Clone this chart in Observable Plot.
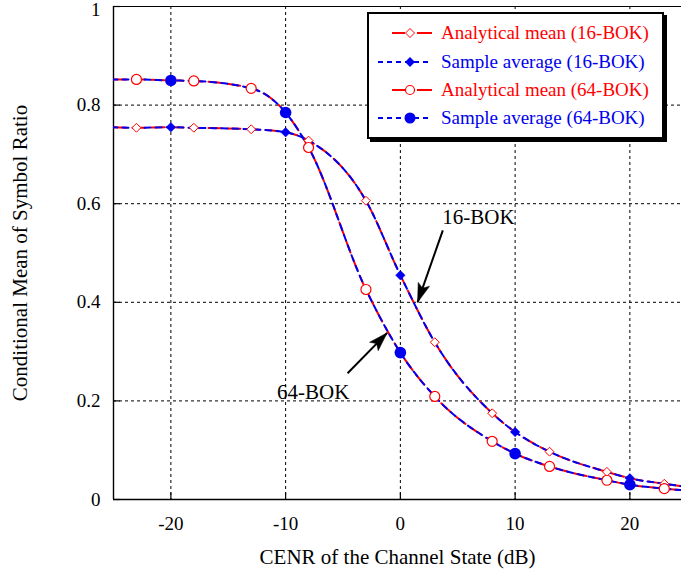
<!DOCTYPE html>
<html>
<head>
<meta charset="utf-8">
<script src="https://cdn.jsdelivr.net/npm/d3@7"></script>
<script src="https://cdn.jsdelivr.net/npm/@observablehq/plot@0.6"></script>
<style>
  html, body { margin: 0; padding: 0; background: #fff; }
  #wrap { position: relative; width: 681px; height: 581px; font-family: "Liberation Serif", "Times New Roman", Times, "DejaVu Serif", serif; }
  #legend { position: absolute; left: 367px; top: 12px; width: 293px; height: 123px; border: 2px solid #000; box-shadow: 3px 3px 0 #000; background: #fff; }
  .row { position: absolute; left: 0; height: 28px; display: flex; align-items: center; font-size: 19px; white-space: nowrap; }
  .row svg { width: 72px; height: 28px; flex: none; }
  #chart svg text { font-family: "Liberation Serif", "Times New Roman", Times, "DejaVu Serif", serif; }
</style>
</head>
<body>
<div id="wrap"><div id="chart"></div><div id="legend"></div></div>
<script>
// ---- data ----
const analyticX = [-23, -18, -13, -8, -3, 3, 8, 13, 18, 23];
const analytic16 = [0.754, 0.754, 0.751, 0.728, 0.606, 0.319, 0.175, 0.097, 0.056, 0.032];
const analytic64 = [0.852, 0.849, 0.834, 0.714, 0.426, 0.209, 0.118, 0.067, 0.039, 0.022];
const sampleX = [-20, -10, 0, 10, 20];
const sample16 = [0.755, 0.745, 0.455, 0.137, 0.043];
const sample64 = [0.850, 0.785, 0.298, 0.093, 0.030];
// curve ends at the frame edges
const edgeX = [-25, 24.5];
const edge16 = [0.755, 0.027];
const edge64 = [0.852, 0.019];

const xTicks = [-20, -10, 0, 10, 20];
const yTicks = [0, 0.2, 0.4, 0.6, 0.8, 1];
const xGrid = [-20, -10, 0, 10, 20];
const yGrid = [0.2, 0.4, 0.6, 0.8];

const labels = ["16-BOK", "64-BOK"];
const labelX = [6.8, -7.6];
const labelY = [0.572, 0.217];
const arrowX1 = [3.7, -4.6];
const arrowY1 = [0.546, 0.256];
const arrowX2 = [1.5, -1.15];
const arrowY2 = [0.4, 0.338];

const legendNames = ["Analytical mean (16-BOK)", "Sample average (16-BOK)", "Analytical mean (64-BOK)", "Sample average (64-BOK)"];

// ---- build tables ----
const pts = (xs, ys) => xs.map((x, i) => ({x, y: ys[i]}));
const curve = (a, s, e) => [...pts(analyticX, a), ...pts(sampleX, s), ...pts(edgeX, e)].sort((p, q) => p.x - q.x);
const c16 = curve(analytic16, sample16, edge16);
const c64 = curve(analytic64, sample64, edge64);
const a16 = pts(analyticX, analytic16), a64 = pts(analyticX, analytic64);
const s16 = pts(sampleX, sample16), s64 = pts(sampleX, sample64);
const ann = labels.map((t, i) => ({t, x: labelX[i], y: labelY[i], x1: arrowX1[i], y1: arrowY1[i], x2: arrowX2[i], y2: arrowY2[i]}));

const RED = "#ff0000", BLUE = "#0000ee";
const serif = "'Liberation Serif', 'Times New Roman', Times, 'DejaVu Serif', serif";

// filled arrowhead symbol: tip at the origin, pointing up
const arrowHead = {
  draw(context) {
    context.moveTo(0, 0);
    context.lineTo(-6, 19);
    context.lineTo(0, 15);
    context.lineTo(6, 19);
    context.closePath();
  }
};

const base = {
  width: 681,
  height: 581,
  marginLeft: 113,
  marginRight: 0,
  marginTop: 6,
  marginBottom: 82,
  style: {fontFamily: serif, background: "#fff", color: "#000"},
  x: {domain: [-25, 24.5]},
  y: {domain: [0, 1]}
};

// first pass: get the scales to orient the arrowheads in screen space
const probe = Plot.plot({...base, marks: [Plot.dot(ann, {x: "x", y: "y"})]});
const sx = probe.scale("x"), sy = probe.scale("y");
ann.forEach(d => {
  const dx = sx.apply(d.x2) - sx.apply(d.x1);
  const dy = sy.apply(d.y2) - sy.apply(d.y1);
  d.angle = Math.atan2(dx, -dy) * 180 / Math.PI;
});

const chart = Plot.plot({
  ...base,
  marks: [
    Plot.ruleX(xGrid, {stroke: "#000", strokeDasharray: "3,3", strokeWidth: 1}),
    Plot.ruleY(yGrid, {stroke: "#000", strokeDasharray: "3,3", strokeWidth: 1}),
    Plot.ruleX(xTicks, {y1: 0, y2: 0.013, stroke: "#000", strokeWidth: 1.2}),
    Plot.ruleY(yTicks, {x1: -25, x2: -24.4, stroke: "#000", strokeWidth: 1.2}),
    Plot.ruleY([0], {stroke: "#000", strokeWidth: 1.6}),
    Plot.ruleY([1], {stroke: "#000", strokeWidth: 1.2}),
    Plot.ruleX([-25], {stroke: "#000", strokeWidth: 1.4}),
    Plot.axisX({ticks: xTicks, tickSize: 0, tickPadding: 17, fontSize: 19, tickFormat: d => String(d)}),
    Plot.axisY({ticks: yTicks.filter(d => d < 1), tickSize: 0, tickPadding: 13, fontSize: 19, tickFormat: d => String(d)}),
    Plot.axisY({ticks: yTicks.filter(d => d === 1), tickSize: 0, tickPadding: 13, fontSize: 19, dy: 3, tickFormat: d => String(d)}),
    Plot.text(["CENR of the Channel State (dB)"], {frameAnchor: "bottom", lineAnchor: "middle", dy: 58, fontSize: 21, text: d => d}),
    Plot.text(["Conditional Mean of Symbol Ratio"], {frameAnchor: "left", textAnchor: "middle", lineAnchor: "middle", dx: -93, rotate: -90, fontSize: 21, text: d => d}),
    // curves
    Plot.line(c16, {x: "x", y: "y", curve: "monotone-x", stroke: RED, strokeWidth: 2, strokeDasharray: "13,6", clip: true}),
    Plot.line(c64, {x: "x", y: "y", curve: "monotone-x", stroke: RED, strokeWidth: 2, strokeDasharray: "13,6", clip: true}),
    Plot.line(c16, {x: "x", y: "y", curve: "monotone-x", stroke: BLUE, strokeWidth: 2, strokeDasharray: "6,5", strokeDashoffset: 2, clip: true}),
    Plot.line(c64, {x: "x", y: "y", curve: "monotone-x", stroke: BLUE, strokeWidth: 2, strokeDasharray: "6,5", strokeDashoffset: 2, clip: true}),
    // markers
    Plot.dot(a16, {x: "x", y: "y", symbol: "diamond2", r: 4, stroke: RED, fill: "#fff", strokeWidth: 1}),
    Plot.dot(a64, {x: "x", y: "y", symbol: "circle", r: 5, stroke: RED, fill: "#fff", strokeWidth: 1.2}),
    Plot.dot(s16, {x: "x", y: "y", symbol: "diamond2", r: 4.3, fill: BLUE, stroke: BLUE, strokeWidth: 0.5}),
    Plot.dot(s64, {x: "x", y: "y", symbol: "circle", r: 5.8, fill: BLUE, stroke: "none"}),
    // annotations
    Plot.link(ann, {x1: "x1", y1: "y1", x2: "x2", y2: "y2", stroke: "#000", strokeWidth: 2}),
    Plot.dot(ann, {x: "x2", y: "y2", symbol: arrowHead, rotate: "angle", fill: "#000", stroke: "#000", strokeWidth: 0.5}),
    Plot.text(ann, {x: "x", y: "y", text: "t", fontSize: 21, fill: "#000"})
  ]
});
document.getElementById("chart").appendChild(chart);

// ---- legend ----
const legend = document.getElementById("legend");
const rowTop = [5, 34, 62, 90];
const styles = [
  {color: RED, kind: "redDiamond"},
  {color: BLUE, kind: "blueDiamond"},
  {color: RED, kind: "redCircle"},
  {color: BLUE, kind: "blueCircle"}
];
legendNames.forEach((name, i) => {
  const st = styles[i];
  const row = document.createElement("div");
  row.className = "row";
  row.style.top = rowTop[i] + "px";
  let swatch = "";
  if (st.color === RED) {
    swatch += `<line x1="23" x2="36" y1="14" y2="14" stroke="${RED}" stroke-width="2"/>`;
    swatch += `<line x1="48" x2="63" y1="14" y2="14" stroke="${RED}" stroke-width="2"/>`;
    if (st.kind === "redDiamond") swatch += `<path d="M41,9.5 L45.5,14 L41,18.5 L36.5,14 Z" fill="#fff" stroke="${RED}" stroke-width="1"/>`;
    else swatch += `<circle cx="41" cy="14" r="4.5" fill="#fff" stroke="${RED}" stroke-width="1.2"/>`;
  } else {
    swatch += `<line x1="9" x2="63" y1="14" y2="14" stroke="${BLUE}" stroke-width="2" stroke-dasharray="5,4"/>`;
    if (st.kind === "blueDiamond") swatch += `<path d="M41,9 L46,14 L41,19 L36,14 Z" fill="${BLUE}"/>`;
    else swatch += `<circle cx="41" cy="14" r="5.5" fill="${BLUE}"/>`;
  }
  row.innerHTML = `<svg viewBox="0 0 72 28">${swatch}</svg><span style="color:${st.color}">${name}</span>`;
  legend.appendChild(row);
});
</script>
</body>
</html>
